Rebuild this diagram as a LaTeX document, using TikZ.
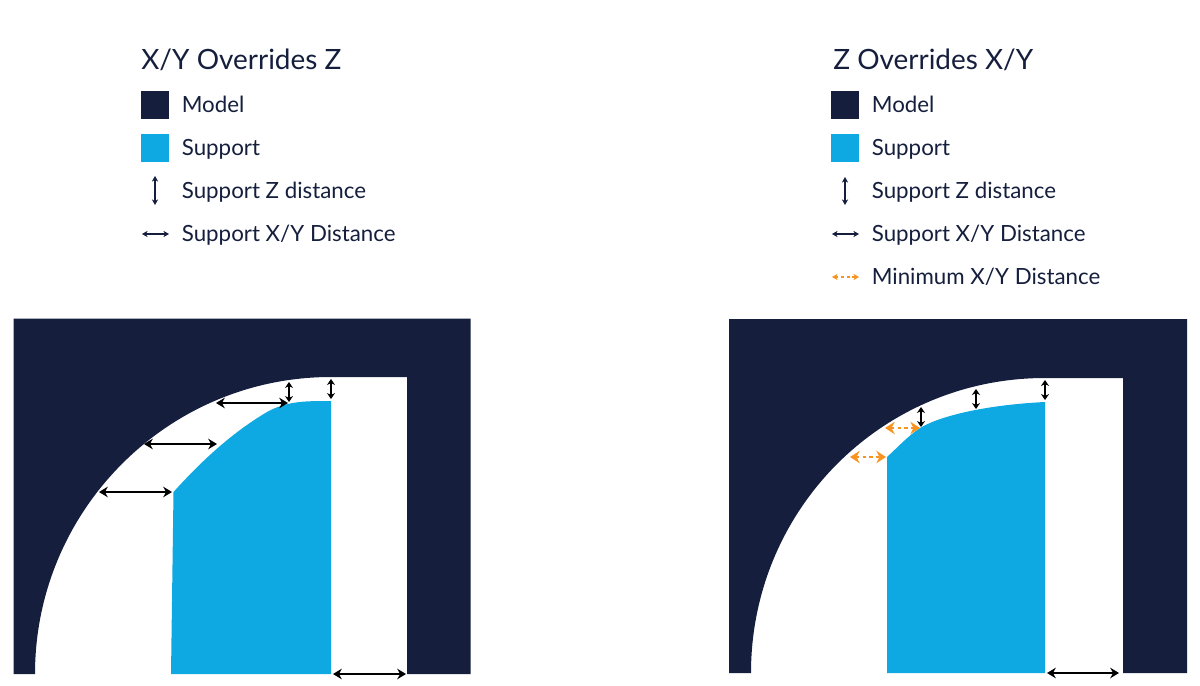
\documentclass[tikz,border=0pt]{standalone}
\usepackage{fontspec}
\setmainfont{Lato}
\usetikzlibrary{arrows.meta}
\definecolor{modelcol}{HTML}{151F3D}
\definecolor{supportcol}{HTML}{0EA9E2}
\definecolor{minxycol}{HTML}{F7931E}
\tikzset{
  legendtext/.style={anchor=base west,inner sep=0pt,text=modelcol,font=\fontsize{12.7pt}{15pt}\selectfont},
  legendtitle/.style={anchor=base west,inner sep=0pt,text=modelcol,font=\fontsize{15.9pt}{19pt}\selectfont},
  swatch/.style={minimum size=0.56cm,inner sep=0pt,outer sep=0pt},
  keyarrow/.style={{Stealth[length=3.2pt,width=3.6pt]}-{Stealth[length=3.2pt,width=3.6pt]},line width=0.6pt},
  gaparrow/.style={{Stealth[length=5pt,width=6pt]}-{Stealth[length=5pt,width=6pt]},line width=1.3pt,black},
  zgaparrow/.style={{Stealth[length=3.4pt,width=4.6pt]}-{Stealth[length=3.4pt,width=4.6pt]},line width=1.4pt,black},
  minarrow/.style={{Stealth[length=5.5pt,width=7pt]}-{Stealth[length=5.5pt,width=7pt]},line width=1.3pt,minxycol,dash pattern=on 1.8pt off 2pt},
}
\begin{document}
\begin{tikzpicture}[x=0.02cm,y=-0.02cm]
  \useasboundingbox (0,0) rectangle (1200,686);
  % left panel
  \fill[modelcol] (13.5,318.5) -- (470.5,318.5) -- (470.5,674) -- (407,674) -- (407,377) -- (331,377)
    .. controls (167.5,377) and (35,510.5) .. (35,674) -- (13.5,674) -- cycle;
  \fill[supportcol] (171,674) -- (173.5,492) .. controls (205,457) and (235,431) .. (267,412)
    .. controls (287,401) and (305,401) .. (331,401) -- (331,674) -- cycle;
  % right panel
  \fill[modelcol] (729,319) -- (1187,319) -- (1187,673) -- (1123,673) -- (1123,378) -- (1045,378)
    .. controls (881.5,378) and (751,510) .. (751,673) -- (729,673) -- cycle;
  \fill[supportcol] (887,673) -- (887,457) .. controls (898,447) and (908,436) .. (920,428)
    .. controls (940,416) and (985,405) .. (1045,402) -- (1045,673) -- cycle;
  % legends
  \node[legendtitle] (ltitle) at (141,69.5) {X/Y Overrides Z};
  \node[swatch,fill=modelcol] (lmodelbox) at (155,105) {};
  \node[swatch,fill=supportcol] (lsupportbox) at (155,148) {};
  \node[legendtext] (lmodel) at (181.5,112.5) {Model};
  \node[legendtext] (lsupport) at (181.5,155.5) {Support};
  \node[legendtext] (lzdist) at (181.5,198.5) {Support Z distance};
  \node[legendtext] (lxydist) at (181.5,241.5) {Support X/Y Distance};
  \node[legendtitle] (rtitle) at (833,69.5) {Z Overrides X/Y};
  \node[swatch,fill=modelcol] (rmodelbox) at (845,105) {};
  \node[swatch,fill=supportcol] (rsupportbox) at (845,148) {};
  \node[legendtext] (rmodel) at (871.5,112.5) {Model};
  \node[legendtext] (rsupport) at (871.5,155.5) {Support};
  \node[legendtext] (rzdist) at (871.5,198.5) {Support Z distance};
  \node[legendtext] (rxydist) at (871.5,241.5) {Support X/Y Distance};
  \node[legendtext] (rmindist) at (871.5,284.5) {Minimum X/Y Distance};
  \path
    (155,176) coordinate (lz0) (155,205) coordinate (lz1)
    (142,234) coordinate (lxy0) (169,234) coordinate (lxy1)
    (845,177) coordinate (rz0) (845,205) coordinate (rz1)
    (832,234) coordinate (rxy0) (859,234) coordinate (rxy1)
    (832,277) coordinate (rmin0) (859,277) coordinate (rmin1);
  \begin{scope}[keyarrow,modelcol]
    \draw (lz0) to (lz1);
    \draw (lxy0) to (lxy1);
    \draw (rz0) to (rz1);
    \draw (rxy0) to (rxy1);
  \end{scope}
  \draw[keyarrow,minxycol,line width=0.8pt,dash pattern=on 1.6pt off 1.6pt] (rmin0) to (rmin1);
  % gap arrows
  \path
    (99,492) coordinate (a0) (172,492) coordinate (a1)
    (144,444) coordinate (b0) (217,444) coordinate (b1)
    (216,403) coordinate (c0) (288,403) coordinate (c1)
    (289,382) coordinate (d0) (289,402) coordinate (d1)
    (331,379) coordinate (e0) (331,399) coordinate (e1)
    (333,674) coordinate (f0) (406,674) coordinate (f1)
    (921,407) coordinate (g0) (921,427) coordinate (g1)
    (976,389) coordinate (h0) (976,409) coordinate (h1)
    (1045,380) coordinate (i0) (1045,400) coordinate (i1)
    (1047,673) coordinate (j0) (1119,673) coordinate (j1)
    (850,457) coordinate (k0) (886,457) coordinate (k1)
    (885,428) coordinate (m0) (920,428) coordinate (m1);
  \begin{scope}[gaparrow]
    \draw (a0) to (a1);
    \draw (b0) to (b1);
    \draw (c0) to (c1);
    \draw (f0) to (f1);
    \draw (j0) to (j1);
  \end{scope}
  \begin{scope}[zgaparrow]
    \draw (d0) to (d1);
    \draw (e0) to (e1);
    \draw (g0) to (g1);
    \draw (h0) to (h1);
    \draw (i0) to (i1);
  \end{scope}
  \begin{scope}[minarrow]
    \draw (k0) to (k1);
    \draw (m0) to (m1);
  \end{scope}
\end{tikzpicture}
\end{document}
